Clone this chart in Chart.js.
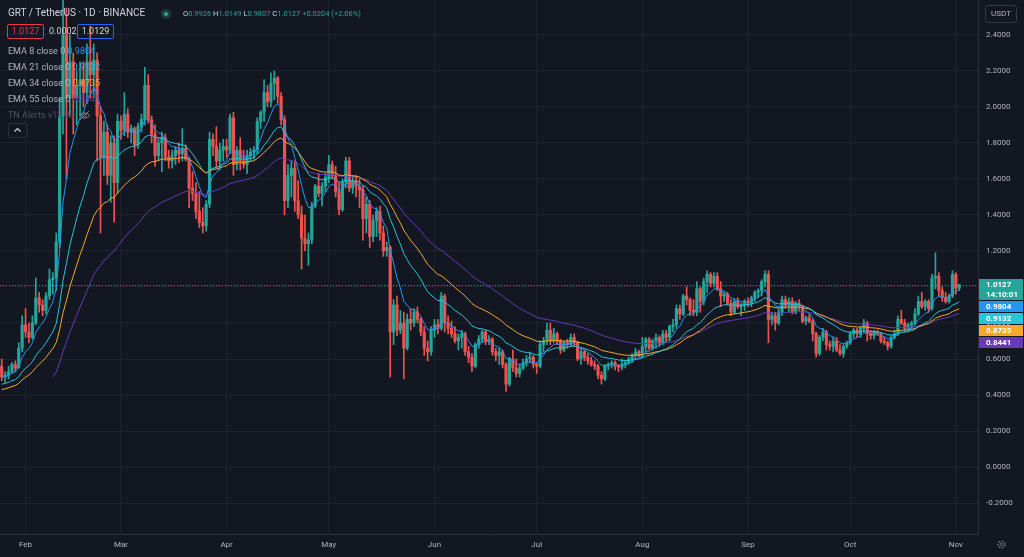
<!DOCTYPE html>
<html>
<head>
<meta charset="utf-8">
<script src="https://cdn.jsdelivr.net/npm/chart.js@4.4.0/dist/chart.umd.min.js"></script>
<style>
  body { margin: 0; background: #131722; overflow: hidden; font-family: Roboto, "Noto Sans", sans-serif; }
  #wrap { position: relative; width: 1024px; height: 557px; }
  canvas { display: block; }
  .t { position: absolute; white-space: nowrap; line-height: 1; }
  .lbl { color: #b2b5be; font-size: 9px; }
  .box { position: absolute; border: 1px solid; border-radius: 2px; font-size: 9px; line-height: 13px; text-align: center; }
</style>
</head>
<body>
<div id="wrap">
  <canvas id="myChart" width="1024" height="557"></canvas>

  <div class="t" style="left:8px;top:8px;font-size:10px;color:#d1d4dc;">GRT / TetherUS · 1D · BINANCE</div>
  <div style="position:absolute;left:161px;top:9px;width:10px;height:10px;border-radius:50%;background:#1c3d3b;"></div>
  <div style="position:absolute;left:164px;top:12px;width:4px;height:4px;border-radius:50%;background:#26a69a;"></div>
  <div class="t" style="left:183px;top:10px;font-size:7.5px;color:#26a69a;">
    <span style="color:#d1d4dc">O</span>0.9926 <span style="color:#d1d4dc">H</span>1.0149 <span style="color:#d1d4dc">L</span>0.9807 <span style="color:#d1d4dc">C</span>1.0127 +0.0204 (+2.06%)
  </div>

  <div class="box" style="left:7px;top:24px;width:35px;height:13px;border-color:#f23645;color:#f23645;">1.0127</div>
  <div class="t" style="left:49px;top:27px;font-size:9px;color:#d1d4dc;">0.0002</div>
  <div class="box" style="left:77px;top:24px;width:35px;height:13px;border-color:#2962ff;color:#d1d4dc;">1.0129</div>

  <div class="t lbl" style="left:8px;top:47px;">EMA 8 close 0 <span style="color:#2196f3">0.9804</span></div>
  <div class="t lbl" style="left:8px;top:63px;">EMA 21 close 0 <span style="color:#26c6da">0.9132</span></div>
  <div class="t lbl" style="left:8px;top:79px;">EMA 34 close 0 <span style="color:#f9a825">0.8735</span></div>
  <div class="t lbl" style="left:8px;top:95px;">EMA 55 close 0 <span style="color:#673ab7">0.8441</span></div>
  <div class="t" style="left:8px;top:111px;font-size:9px;color:#50535e;">TN Alerts v12.20</div>
  <svg style="position:absolute;left:78px;top:110px" width="13" height="11" viewBox="0 0 13 11">
    <path d="M1 5.5 Q6.5 0 12 5.5 Q6.5 11 1 5.5 Z" fill="none" stroke="#787b86" stroke-width="1"/>
    <circle cx="6.5" cy="5.5" r="1.8" fill="none" stroke="#787b86" stroke-width="1"/>
    <line x1="2" y1="10" x2="11" y2="1" stroke="#787b86" stroke-width="1"/>
  </svg>
  <div style="position:absolute;left:8px;top:123px;width:18px;height:13px;border:1px solid #2a2e39;border-radius:2px;"></div>
  <svg style="position:absolute;left:13px;top:127px" width="9" height="6" viewBox="0 0 9 6">
    <polyline points="1.5,4.5 4.5,1.5 7.5,4.5" fill="none" stroke="#d1d4dc" stroke-width="1.2"/>
  </svg>

  <div class="box" style="left:985px;top:5px;width:30px;height:16px;line-height:16px;border-color:#363a45;color:#b2b5be;font-size:8px;border-radius:3px;">USDT</div>
  <svg style="position:absolute;left:996px;top:539px" width="11" height="11" viewBox="0 0 11 11">
    <circle cx="5.5" cy="5.5" r="3.5" fill="none" stroke="#787b86" stroke-width="1.2" stroke-dasharray="2 1.2"/>
    <circle cx="5.5" cy="5.5" r="1.3" fill="none" stroke="#787b86" stroke-width="1"/>
  </svg>
</div>

<script>
// daily GRT/USDT candles, first one 2021-01-25
const firstDay = Date.UTC(2021, 0, 25);
const slotCount = 287; // candles plus empty right margin
const monthNames = ["Jan", "Feb", "Mar", "Apr", "May", "Jun", "Jul", "Aug", "Sep", "Oct", "Nov", "Dec"];

const opens = [
  .56,.50,.51,.53,.57,.55,.66, .79,.75,.72,.80,.94,.90,.87, .95,1.04,1.05,1.25,1.95,2.40,2.05,
  2.25,2.05,2.12,2.15,2.08,2.25,2.18, 2.26,1.95,1.72,1.86,1.62,1.80,1.58, 1.92,1.87,1.96,1.86,1.88,1.79,1.89,
  1.93,2.12,1.93,1.85,1.73,1.80,1.83, 1.72,1.70,1.73,1.76,1.74,1.77,1.71, 1.55,1.52,1.42,1.36,1.34,1.46,1.82,
  1.78,1.70,1.76,1.78,1.76,1.94,1.68, 1.76,1.70,1.68,1.73,1.75,1.76,1.92, 1.97,2.08,2.03,2.13,2.16,2.06,1.93,
  1.48,1.62,1.66,1.48,1.40,1.27,1.24, 1.26,1.45,1.56,1.52,1.56,1.61,1.68, 1.62,1.53,1.43,1.58,1.70,1.55,1.59,
  1.56,1.54,1.38,1.46,1.28,1.37,1.42, 1.30,1.20,1.22,.75,.90,.76,.80, .66,.82,.80,.86,.82,.75,.66,
  .64,.76,.79,.77,.95,.80,.77, .74,.70,.72,.74,.64,.61,.56, .68,.71,.75,.70,.71,.64,.62,
  .64,.57,.46,.60,.55,.52,.55, .58,.60,.61,.57,.56,.68,.70, .76,.70,.74,.70,.65,.69,.68,
  .72,.69,.60,.64,.61,.59,.57, .56,.51,.49,.56,.57,.58,.56, .555,.57,.58,.60,.62,.64,.62,
  .67,.71,.66,.70,.72,.69,.74, .72,.78,.79,.88,.85,.95,.93, .87,.86,.99,.92,1.03,1.07,1.02,
  1.06,.99,.95,.96,.91,.86,.92, .89,.90,.92,.91,.94,.97,.98, 1.03,1.07,.82,.84,.80,.86,.93,
  .90,.92,.86,.91,.89,.81,.83, .81,.74,.63,.72,.75,.68,.67, .70,.65,.63,.67,.69,.74,.76,
  .74,.77,.80,.74,.73,.75,.74, .70,.69,.67,.72,.74,.82,.80, .77,.79,.80,.85,.92,.89,.92,
  .88,1.05,1.06,.98,.94,.92,.95, 1.07,.9926
];
const highs = [
  .60,.53,.56,.58,.59,.69,.84, .88,.80,.84,1.05,.97,.93,.97, 1.10,1.08,1.30,2.05,2.88,2.55,2.40,
  2.30,2.20,2.25,2.25,2.35,2.45,2.35, 2.30,2.00,1.92,1.90,1.84,1.84,1.96, 1.95,2.08,1.99,1.90,1.89,1.91,1.96,
  2.22,2.18,1.95,1.90,1.83,1.86,1.85, 1.76,1.76,1.78,1.80,1.88,1.79,1.72, 1.64,1.58,1.53,1.44,1.48,1.86,1.85,
  1.89,1.80,1.82,1.82,1.96,1.97,1.78, 1.83,1.76,1.76,1.77,1.78,1.94,1.98, 2.15,2.12,2.19,2.20,2.17,2.08,1.95,
  1.68,1.70,1.70,1.59,1.45,1.40,1.30, 1.47,1.57,1.63,1.58,1.63,1.73,1.70, 1.67,1.58,1.60,1.72,1.72,1.62,1.62,
  1.60,1.56,1.50,1.48,1.40,1.44,1.45, 1.34,1.25,1.23,.93,.95,.87,.86, .85,.88,.88,.89,.83,.78,.70,
  .78,.82,.82,.97,.96,.84,.81, .78,.74,.76,.75,.67,.63,.69, .73,.76,.76,.73,.72,.66,.66,
  .65,.58,.61,.65,.60,.57,.60, .62,.64,.62,.58,.70,.72,.80, .80,.77,.75,.71,.70,.71,.74,
  .74,.70,.66,.65,.63,.61,.59, .57,.53,.57,.58,.59,.59,.57, .60,.59,.61,.63,.66,.65,.72,
  .72,.72,.71,.74,.73,.76,.76, .79,.82,.90,.90,.96,1.00,.94, .93,1.03,1.00,1.05,1.09,1.08,1.08,
  1.08,1.03,.97,.97,.93,.93,.94, .91,.93,.94,.95,.98,.99,1.04, 1.09,1.09,.86,.86,.88,.95,.95,
  .94,.94,.92,.93,.90,.84,.85, .82,.75,.73,.77,.76,.70,.72, .72,.68,.68,.70,.75,.77,.77,
  .78,.82,.81,.76,.76,.76,.75, .72,.70,.73,.76,.84,.87,.82, .80,.81,.88,.95,.97,.93,.93,
  1.07,1.19,1.08,1.00,.97,.96,1.09, 1.08,1.0149
];
const lows = [
  .48,.47,.49,.52,.53,.55,.64, .72,.69,.71,.79,.86,.84,.85, .93,.96,.98,1.22,1.85,1.60,1.95,
  1.85,1.90,1.95,2.00,2.02,2.05,2.05, 1.70,1.30,1.62,1.57,1.47,1.36,1.52, 1.82,1.84,1.83,1.80,1.73,1.77,1.86,
  1.90,1.91,1.80,1.67,1.70,1.64,1.70, 1.66,1.66,1.68,1.69,1.70,1.70,1.44, 1.48,1.38,1.33,1.30,1.31,1.44,1.73,
  1.66,1.65,1.70,1.72,1.74,1.62,1.65, 1.65,1.66,1.63,1.70,1.71,1.74,1.88, 1.92,2.00,2.00,2.04,2.02,1.90,1.40,
  1.44,1.50,1.42,1.38,1.10,1.20,1.12, 1.24,1.44,1.50,1.45,1.53,1.58,1.60, 1.50,1.40,1.42,1.55,1.53,1.52,1.50,
  1.44,1.26,1.30,1.22,1.25,1.28,1.26, 1.17,1.17,.50,.68,.73,.74,.49, .65,.76,.78,.80,.73,.62,.59,
  .62,.72,.74,.76,.75,.74,.72, .69,.65,.66,.62,.58,.53,.55, .66,.69,.68,.68,.62,.59,.57,
  .55,.42,.45,.53,.50,.50,.54, .56,.58,.55,.52,.55,.64,.68, .68,.69,.68,.63,.64,.66,.67,
  .67,.59,.57,.59,.57,.56,.54, .49,.46,.48,.54,.55,.54,.53, .54,.55,.57,.58,.60,.61,.61,
  .64,.65,.65,.66,.67,.68,.70, .70,.75,.77,.82,.84,.90,.84, .84,.84,.86,.90,.97,1.00,1.00,
  .98,.89,.92,.90,.84,.85,.88, .84,.87,.89,.89,.92,.94,.95, 1.00,.69,.79,.76,.79,.84,.88,
  .86,.85,.85,.87,.80,.79,.80, .70,.61,.62,.70,.65,.65,.64, .64,.62,.61,.66,.68,.72,.72,
  .72,.75,.70,.71,.71,.73,.69, .68,.65,.66,.71,.73,.79,.75, .75,.77,.79,.84,.88,.87,.86,
  .87,.99,.95,.92,.91,.91,.94, .96,.9807
];
const closes = [
  .50,.51,.53,.57,.55,.66,.79, .75,.72,.80,.94,.90,.87,.95, 1.04,1.05,1.25,1.95,2.40,2.05,2.25,
  2.05,2.12,2.15,2.08,2.25,2.18,2.26, 1.95,1.72,1.86,1.62,1.80,1.58,1.92, 1.87,1.96,1.86,1.88,1.79,1.89,1.93,
  2.12,1.93,1.85,1.73,1.80,1.83,1.72, 1.70,1.73,1.76,1.74,1.77,1.71,1.55, 1.52,1.42,1.36,1.34,1.46,1.82,1.78,
  1.70,1.76,1.78,1.76,1.94,1.68,1.76, 1.70,1.68,1.73,1.75,1.76,1.92,1.97, 2.08,2.03,2.13,2.16,2.06,1.93,1.48,
  1.62,1.66,1.48,1.40,1.27,1.24,1.26, 1.45,1.56,1.52,1.56,1.61,1.68,1.62, 1.53,1.43,1.58,1.70,1.55,1.59,1.56,
  1.54,1.38,1.46,1.28,1.37,1.42,1.30, 1.20,1.22,.75,.90,.76,.80,.66, .82,.80,.86,.82,.75,.66,.64,
  .76,.79,.77,.95,.80,.77,.74, .70,.72,.74,.64,.61,.56,.68, .71,.75,.70,.71,.64,.62,.64,
  .57,.46,.60,.55,.52,.55,.58, .60,.61,.57,.56,.68,.70,.76, .70,.74,.70,.65,.69,.68,.72,
  .69,.60,.64,.61,.59,.57,.56, .51,.49,.56,.57,.58,.56,.555, .57,.58,.60,.62,.64,.62,.67,
  .71,.66,.70,.72,.69,.74,.72, .78,.79,.88,.85,.95,.93,.87, .86,.99,.92,1.03,1.07,1.02,1.06,
  .99,.95,.96,.91,.86,.92,.89, .90,.92,.91,.94,.97,.98,1.03, 1.07,.82,.84,.80,.86,.93,.90,
  .92,.86,.91,.89,.81,.83,.81, .74,.63,.72,.75,.68,.67,.70, .65,.63,.67,.69,.74,.76,.74,
  .77,.80,.74,.73,.75,.74,.70, .69,.67,.72,.74,.82,.80,.77, .79,.80,.85,.92,.89,.92,.88,
  1.05,1.06,.98,.94,.92,.95,1.07, .9926,1.0127
];

const emaLengths = [8, 21, 34, 55];
const emaStartIndex = [0, 0, 0, 15];
const emaStartValue = [0.50, 0.46, 0.43, 0.50];
const emaLastValue = [0.9804, 0.9132, 0.8735, 0.8441];
const emaColors = ["#2196f3", "#26c6da", "#f9a825", "#673ab7"];
const countdown = "14:10:01";

const upColor = "#26a69a";
const downColor = "#ef5350";
const gridColor = "#1e222d";

function ema(len, start, seed) {
  const k = 2 / (len + 1);
  const out = closes.map(() => null);
  let prev = seed;
  out[start] = seed;
  for (let i = start + 1; i < closes.length; i++) {
    prev = closes[i] * k + prev * (1 - k);
    out[i] = prev;
  }
  return out;
}

const days = [];
for (let i = 0; i < slotCount; i++) days.push(new Date(firstDay + i * 86400000));
const dayLabels = days.map(d => d.toISOString().slice(0, 10));
const isMonthStart = i => days[i] && days[i].getUTCDate() === 1;

const candleColors = closes.map((c, i) => c >= opens[i] ? upColor : downColor);
const emaSeries = emaLengths.map((len, k) => ema(len, emaStartIndex[k], emaStartValue[k]));

const priceLine = {
  id: "priceLine",
  beforeDatasetsDraw(chart) {
    const { ctx, chartArea: a, scales: { y } } = chart;
    const py = Math.round(y.getPixelForValue(closes[closes.length - 1])) + 0.5;
    ctx.save();
    ctx.strokeStyle = upColor;
    ctx.lineWidth = 1;
    ctx.setLineDash([1, 2]);
    ctx.beginPath();
    ctx.moveTo(a.left, py);
    ctx.lineTo(a.right, py);
    ctx.stroke();
    ctx.restore();
  }
};

const axisTags = {
  id: "axisTags",
  afterDraw(chart) {
    const { ctx, chartArea: a, scales: { y } } = chart;
    const last = closes[closes.length - 1];
    const tags = [{ v: last, lines: [last.toFixed(4), countdown], color: upColor }];
    emaLastValue.forEach((v, k) => tags.push({ v: v, lines: [v.toFixed(4)], color: emaColors[k] }));
    let prevBottom = -1e9;
    ctx.save();
    ctx.font = "bold 8px Roboto";
    ctx.textBaseline = "middle";
    tags.forEach(t => {
      const h = 10 * t.lines.length + 1;
      const top = Math.max(Math.round(y.getPixelForValue(t.v)) - 6, prevBottom + 1);
      ctx.fillStyle = t.color;
      ctx.fillRect(a.right + 1, top, 1022 - a.right, h);
      ctx.fillStyle = "#ffffff";
      t.lines.forEach((s, j) => ctx.fillText(s, a.right + 8, top + 6 + j * 10));
      prevBottom = top + h;
    });
    ctx.restore();
  }
};

const datasets = emaSeries.map((s, k) => ({
  type: "line",
  label: "EMA " + emaLengths[k],
  data: s,
  borderColor: emaColors[k],
  borderWidth: 1,
  pointRadius: 0,
  tension: 0,
  order: 0
}));
datasets.push({
  label: "wick",
  data: lows.map((l, i) => [l, highs[i]]),
  backgroundColor: candleColors,
  barThickness: 1,
  grouped: false,
  order: 2
});
datasets.push({
  label: "body",
  data: opens.map((o, i) => [o, closes[i]]),
  backgroundColor: candleColors,
  barThickness: 2.5,
  minBarLength: 1,
  grouped: false,
  order: 1
});

new Chart("myChart", {
  type: "bar",
  data: { labels: dayLabels, datasets: datasets },
  options: {
    responsive: false,
    animation: false,
    layout: { padding: 0, autoPadding: false },
    plugins: { legend: { display: false }, tooltip: { enabled: false } },
    scales: {
      x: {
        offset: true,
        grid: {
          offset: false,
          drawTicks: false,
          color: ctx => isMonthStart(ctx.index) ? gridColor : "transparent"
        },
        border: { color: "#2a2e39" },
        ticks: {
          autoSkip: false,
          maxRotation: 0,
          padding: 6,
          color: "#b2b5be",
          font: { family: "Roboto", size: 8 },
          callback: (v, i) => isMonthStart(i) ? monthNames[days[i].getUTCMonth()] : ""
        },
        afterFit: s => { s.height = 23; s.paddingLeft = 0; s.paddingRight = 0; }
      },
      y: {
        position: "right",
        min: -0.372,
        max: 2.594,
        grid: { color: gridColor, drawTicks: false },
        border: { color: "#2a2e39" },
        ticks: {
          stepSize: 0.2,
          includeBounds: false,
          padding: 8,
          color: "#b2b5be",
          font: { family: "Roboto", size: 8 },
          callback: v => v.toFixed(4)
        },
        afterFit: s => { s.width = 46; s.paddingTop = 0; s.paddingBottom = 0; }
      }
    }
  },
  plugins: [priceLine, axisTags]
});
</script>
</body>
</html>
